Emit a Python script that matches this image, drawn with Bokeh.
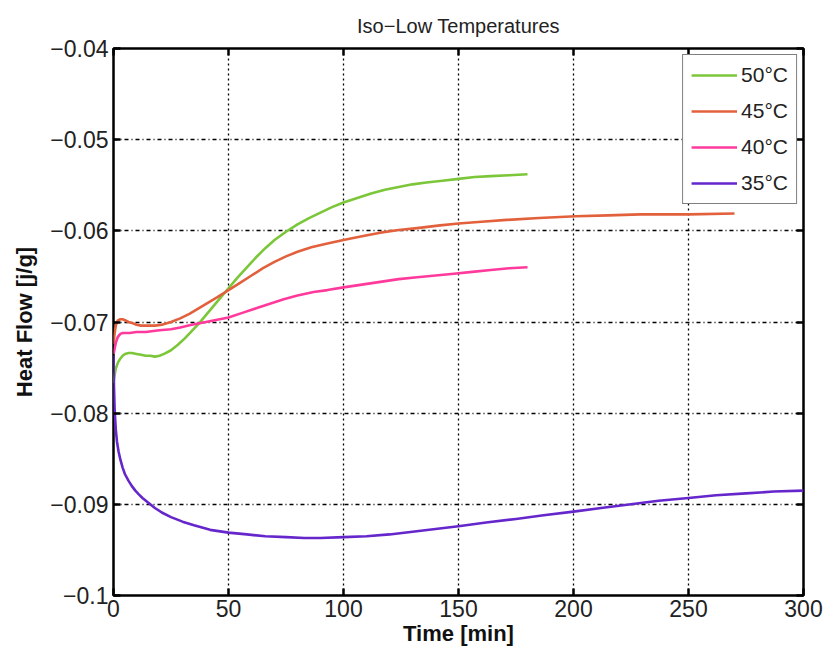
from bokeh.plotting import figure
from bokeh.models import Range1d, FixedTicker, LinearAxis, Legend, LegendItem
from bokeh.embed import file_html
from bokeh.resources import INLINE

# ---------------- data ----------------
t50 = [0, 0.5, 1, 2, 3, 4, 5, 6.5, 8, 10, 12, 14, 16, 18, 20, 22, 25, 28, 31, 34, 37, 40, 43, 46, 50, 54, 58, 62, 66, 70, 75, 80, 85, 90, 95, 100, 106, 112, 118, 124, 130, 136, 143, 150, 157, 164, 172, 180]
y50 = [-0.0767, -0.0758, -0.0751, -0.0744, -0.0740, -0.0737, -0.0735, -0.0734, -0.0734, -0.0735, -0.0736, -0.0737, -0.0737, -0.0738, -0.0737, -0.0735, -0.0731, -0.0725, -0.0718, -0.0710, -0.0702, -0.0693, -0.0684, -0.0675, -0.0663, -0.0651, -0.0640, -0.0629, -0.0619, -0.0610, -0.0601, -0.0593, -0.0586, -0.0580, -0.0574, -0.0569, -0.0564, -0.0559, -0.0555, -0.0552, -0.0549, -0.0547, -0.0545, -0.0543, -0.0541, -0.0540, -0.0539, -0.0538]

t45 = [0, 0.5, 1, 1.5, 2, 3, 4, 5, 6.5, 8, 10, 12, 15, 18, 21, 25, 29, 33, 37, 41, 45, 50, 55, 60, 65, 70, 75, 80, 86, 93, 100, 108, 116, 124, 132, 142, 150, 160, 171, 185, 201, 215, 229, 250, 270]
y45 = [-0.0724, -0.0712, -0.0704, -0.0700, -0.0698, -0.0697, -0.0697, -0.0698, -0.0700, -0.0701, -0.0703, -0.0704, -0.0704, -0.0704, -0.0703, -0.0700, -0.0696, -0.0691, -0.0685, -0.0679, -0.0673, -0.0665, -0.0657, -0.0649, -0.0641, -0.0634, -0.0628, -0.0623, -0.0618, -0.0614, -0.0610, -0.0606, -0.0602, -0.0599, -0.0597, -0.0594, -0.0592, -0.0590, -0.0588, -0.0586, -0.0584, -0.0583, -0.0582, -0.0582, -0.0581]

t40 = [0, 0.5, 1, 1.5, 2, 3, 4, 5, 7, 10, 14, 20, 25, 29, 34, 38, 44, 50, 56, 62, 68, 74, 80, 87, 93, 100, 108, 116, 124, 132, 140, 148, 156, 164, 172, 180]
y40 = [-0.0735, -0.0729, -0.0723, -0.0719, -0.0716, -0.0713, -0.0712, -0.0712, -0.0712, -0.0711, -0.0711, -0.0709, -0.0708, -0.0706, -0.0703, -0.0701, -0.0698, -0.0695, -0.0690, -0.0685, -0.0680, -0.0675, -0.0671, -0.0667, -0.0665, -0.0662, -0.0659, -0.0656, -0.0653, -0.0651, -0.0649, -0.0647, -0.0645, -0.0643, -0.0641, -0.0640]

t35 = [0, 0.2, 0.5, 1, 1.5, 2.2, 3, 4, 5, 6.5, 8, 9.5, 11, 12.6, 15, 18, 21, 25, 30, 35, 42, 50, 58, 66, 75, 83, 90, 100, 110, 120, 130, 140, 150, 162, 175, 187, 200, 212, 225, 237, 250, 262, 275, 287, 300]
y35 = [-0.0737, -0.0770, -0.0797, -0.0818, -0.0831, -0.0842, -0.0851, -0.0860, -0.0867, -0.0874, -0.0880, -0.0885, -0.0889, -0.0893, -0.0898, -0.0904, -0.0909, -0.0914, -0.0919, -0.0923, -0.0928, -0.0931, -0.0933, -0.0935, -0.0936, -0.0937, -0.0937, -0.0936, -0.0935, -0.0933, -0.0930, -0.0927, -0.0924, -0.0920, -0.0916, -0.0912, -0.0908, -0.0904, -0.0900, -0.0896, -0.0893, -0.0890, -0.0888, -0.0886, -0.0885]

series_labels = ["50°C", "45°C", "40°C", "35°C"]
series_colors = ["#7cc63a", "#e2603c", "#ff3a9c", "#6526cc"]

x_ticks = [0, 50, 100, 150, 200, 250, 300]
y_ticks = [-0.1, -0.09, -0.08, -0.07, -0.06, -0.05, -0.04]
y_tick_labels = ["\u22120.1", "\u22120.09", "\u22120.08", "\u22120.07", "\u22120.06", "\u22120.05", "\u22120.04"]

title_text = "Iso\u2212Low Temperatures"
x_label = "Time [min]"
y_label = "Heat Flow [j/g]"

# ---------------- figure ----------------
FONT = "Liberation Sans"
p = figure(width=826, height=650, x_range=Range1d(0, 300), y_range=Range1d(-0.1, -0.04),
           output_backend="svg", toolbar_location=None,
           min_border_left=113, min_border_right=23, min_border_top=48, min_border_bottom=55)
p.background_fill_color = "white"
p.border_fill_color = "white"
p.outline_line_color = "black"
p.outline_line_width = 2.5

p.title.text = title_text
p.title.text_font = FONT
p.title.text_font_size = "20px"
p.title.text_font_style = "normal"
p.title.align = "center"
p.title.text_color = "#222222"
p.title.standoff = 24

xt = FixedTicker(ticks=x_ticks)
yt = FixedTicker(ticks=y_ticks)

bottom_ax = p.below[0]
left_ax = p.left[0]
bottom_ax.ticker = xt
left_ax.ticker = yt
left_ax.major_label_overrides = {v: s for v, s in zip(y_ticks, y_tick_labels)}

top_ax = LinearAxis(ticker=xt)
right_ax = LinearAxis(ticker=yt)
top_ax.major_label_overrides = {v: "" for v in x_ticks}
right_ax.major_label_overrides = {v: "" for v in y_ticks}
p.add_layout(top_ax, "above")
p.add_layout(right_ax, "right")

for ax in [bottom_ax, left_ax, top_ax, right_ax]:
    ax.axis_line_color = None
    ax.major_tick_in = 7
    ax.major_tick_out = 0
    ax.major_tick_line_width = 2.5
    ax.major_tick_line_color = "black"
    ax.minor_tick_line_color = None
    ax.major_label_text_font = FONT
    ax.major_label_text_font_size = "23px"
    ax.major_label_text_color = "#222222"
for ax in [top_ax, right_ax]:
    ax.major_label_standoff = 0

bottom_ax.major_label_standoff = 4
left_ax.major_label_standoff = 5
bottom_ax.axis_label = x_label
left_ax.axis_label = y_label
for ax in [bottom_ax, left_ax]:
    ax.axis_label_text_font = FONT
    ax.axis_label_text_font_size = "22px"
    ax.axis_label_text_font_style = "bold"
    ax.axis_label_text_color = "#111111"
bottom_ax.axis_label_standoff = 1
left_ax.axis_label_standoff = 10

p.xgrid.ticker = xt
p.ygrid.ticker = yt
p.xgrid.grid_line_color = "black"
p.ygrid.grid_line_color = "black"
p.xgrid.grid_line_dash = "2 3"
p.ygrid.grid_line_dash = "4 3 1 3"
p.xgrid.grid_line_width = 1.3
p.ygrid.grid_line_width = 1.3

items = []
for tx, ty, lab, col in zip([t50, t45, t40, t35], [y50, y45, y40, y35], series_labels, series_colors):
    r = p.line(tx, ty, line_color=col, line_width=2.6, line_join="round")
    items.append(LegendItem(label=lab, renderers=[r]))

legend = Legend(items=items, location="top_right")
legend.margin = 6
legend.padding = 8
legend.spacing = 12
legend.label_height = 22
legend.glyph_height = 22
legend.glyph_width = 46
legend.label_standoff = 4
legend.label_text_font = FONT
legend.label_text_font_size = "21px"
legend.label_text_color = "#222222"
legend.border_line_color = "black"
legend.border_line_width = 1.5
legend.background_fill_color = "white"
legend.background_fill_alpha = 1.0
p.add_layout(legend, "center")

open("out.html", "w").write(file_html(p, INLINE))
